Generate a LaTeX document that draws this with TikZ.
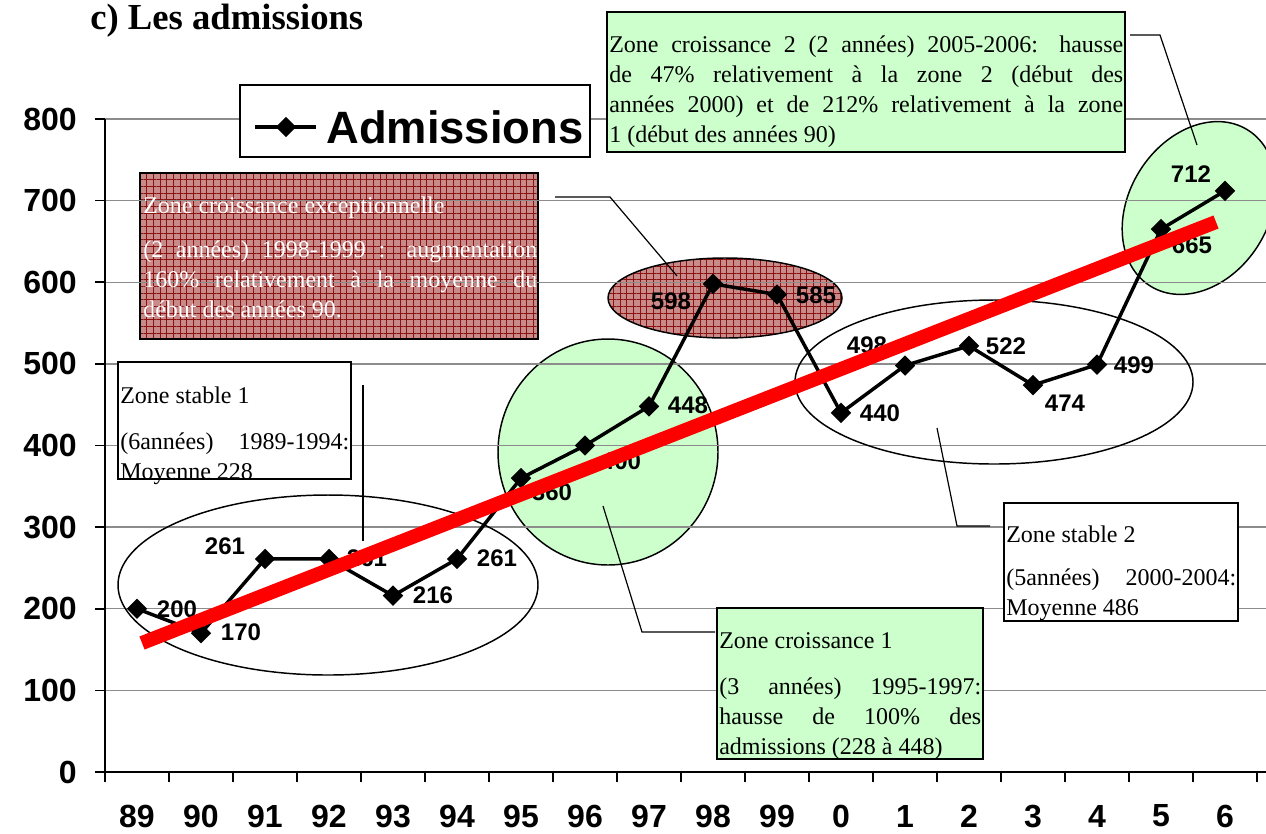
\documentclass[tikz,border=0pt]{standalone}
\usepackage{fontspec}
\setmainfont{Liberation Serif}
\setsansfont{Liberation Sans}
\usetikzlibrary{shapes.geometric,patterns.meta}

\definecolor{vert}{HTML}{CCFFCC}
\definecolor{rose}{HTML}{C98A8A}
\definecolor{bordeaux}{HTML}{8B1010}
\definecolor{grille}{HTML}{8C8C8C}
\definecolor{rouge}{HTML}{FF0000}

\tolerance=10000
\hbadness=10000
\hyphenpenalty=10000

\begin{document}
\begin{tikzpicture}[x=0.75pt,y=-0.75pt,
  gridline/.style={draw=grille,line width=1.1pt},
  axeline/.style={draw=black,line width=1.2pt},
  zone/.style={draw=black,line width=1.1pt},
  vertzone/.style={zone,fill=vert},
  rougezone/.style={zone,preaction={fill=rose},pattern={Hatch[angle=0,distance=5pt,line width=0.35pt]},pattern color=bordeaux},
  boite/.style={draw=black,line width=1.1pt,fill=white},
  vertboite/.style={boite,fill=vert},
  texte/.style={anchor=base west,inner sep=0pt,text width=#1,align=justify,font=\fontsize{18}{22.5}\selectfont},
  valeur/.style={inner sep=0pt,font=\sffamily\bfseries\fontsize{18}{18}\selectfont},
  axe/.style={inner sep=0pt,font=\sffamily\bfseries\fontsize{24}{24}\selectfont},
  marque/.style={diamond,fill=black,inner sep=0pt,minimum width=15.5pt,minimum height=15.5pt},
  serie/.style={draw=black,line width=2.6pt},
  renvoi/.style={draw=black,line width=0.9pt},
  tendance/.style={draw=rouge,line width=10.5pt}
]
\useasboundingbox (0,0) rectangle (1266,833);

% titre
\node[anchor=base west,inner sep=0pt,font=\bfseries\fontsize{27.5}{28}\selectfont] (titre) at (90,29) {c) Les admissions};

% zones (ellipses)
\draw[vertzone] (608,452) ellipse [x radius=110,y radius=113];
\draw[vertzone,rotate around={58:(1199,208)}] (1199,208) ellipse [x radius=92,y radius=70];
\draw[rougezone] (725,298) ellipse [x radius=117,y radius=40];
\draw[rougezone] (140,173) rectangle (538,339);

% grille et axes
\foreach \v in {100,200,...,800}
  \draw[gridline] (105,{772-0.81625*\v}) -- (1266,{772-0.81625*\v});
\draw[axeline] (105,119) -- (105,772) -- (1266,772);
\foreach \v in {0,100,...,800} {
  \draw[axeline] (95,{772-0.81625*\v}) -- (105,{772-0.81625*\v});
  \node[axe,anchor=east] (y\v) at (77,{772-0.81625*\v}) {\v};
}
\foreach \k in {0,...,18}
  \draw[axeline] ({105+64*\k},772) -- ({105+64*\k},782);
\foreach \a [count=\i from 0] in {89,90,91,92,93,94,95,96,97,98,99,0,1,2,3,4,5,6}
  \node[axe] (x\i) at ({137+64*\i},816) {\a};

\draw[zone] (328,585) ellipse [x radius=210,y radius=90];
\draw[zone] (994,382) ellipse [x radius=199,y radius=82];

% encadres
\node[texte=295.5pt,text=white] (exc) at (143,213) {Zone croissance exceptionnelle\\[11pt](2 années) 1998-1999 : augmentation\linebreak 160\% relativement à la moyenne du\linebreak début des années 90.};

\draw[boite] (118,362) rectangle (351,479);
\node[texte=171.75pt] (st1) at (120,403) {Zone stable 1\\[12pt](6années) 1989-1994:\linebreak Moyenne 228};

\draw[boite] (1004,503) rectangle (1238,621);
\node[texte=172.5pt] (st2) at (1006,542) {Zone stable 2\\[10pt](5années) 2000-2004:\linebreak Moyenne 486};

\draw[vertboite] (717,608) rectangle (983,759);
\node[texte=196.5pt] (cr1) at (719,648) {Zone croissance 1\\[12pt](3 années) 1995-1997:\linebreak hausse de 100\% des\linebreak admissions (228 à 448)};

\draw[vertboite] (607,12) rectangle (1125,152);
\node[texte=385.5pt] (cr2) at (609,52) {Zone croissance 2 (2 années) 2005-2006: hausse\linebreak de 47\% relativement à la zone 2 (début des\linebreak années 2000) et de 212\% relativement à la zone\linebreak 1 (début des années 90)};

% renvois
\coordinate (r1a) at (363,385);
\coordinate (r1b) at (363,541);
\draw[renvoi] (r1a) -- (r1b);
\coordinate (r2a) at (555,197);
\coordinate (r2b) at (610,197);
\coordinate (r2c) at (677,276);
\draw[renvoi] (r2a) -- (r2b) -- (r2c);
\coordinate (r3a) at (715,632);
\coordinate (r3b) at (642,632);
\coordinate (r3c) at (603,506);
\draw[renvoi] (r3a) -- (r3b) -- (r3c);
\coordinate (r4a) at (990,526);
\coordinate (r4b) at (957,526);
\coordinate (r4c) at (937,428);
\draw[renvoi] (r4a) -- (r4b) -- (r4c);
\coordinate (r5a) at (1130,35);
\coordinate (r5b) at (1160,35);
\coordinate (r5c) at (1197,145);
\draw[renvoi] (r5a) -- (r5b) -- (r5c);

% serie
\foreach \v [count=\i from 0] in {200,170,261,261,216,261,360,400,448,598,585,440,498,522,474,499,665,712}
  \coordinate (p\i) at ({137+64*\i},{772-0.81625*\v});
\draw[serie] (p0) \foreach \i in {1,...,17} {-- (p\i)};
\foreach \i in {0,...,17}
  \node[marque] (m\i) at (p\i) {};
\foreach \i/\v/\lx/\ly in {0/200/177/609,1/170/241/632,2/261/225/546,3/261/367/558,4/216/433/595,5/261/497/558,6/360/552/492,7/400/621/461,8/448/688/405,9/598/671/301,10/585/816/295,11/440/880/413,12/498/867/345,13/522/1006/346,14/474/1065/403,15/499/1134/365,16/665/1192/245,17/712/1191/174}
  \node[valeur] (v\i) at (\lx,\ly) {\v};

% tendance
\coordinate (t0) at (142,643);
\coordinate (t1) at (1216,222);
\draw[tendance] (t0) -- (t1);

% legende
\draw[boite] (240,85) rectangle (590,157);
\coordinate (l0) at (255,127);
\coordinate (l1) at (316,127);
\draw[serie] (l0) -- (l1);
\node[marque] (lm) at (286,127) {};
\node[anchor=base west,inner sep=0pt,font=\sffamily\bfseries\fontsize{34}{34}\selectfont] (leg) at (326,143) {Admissions};

\end{tikzpicture}
\end{document}
